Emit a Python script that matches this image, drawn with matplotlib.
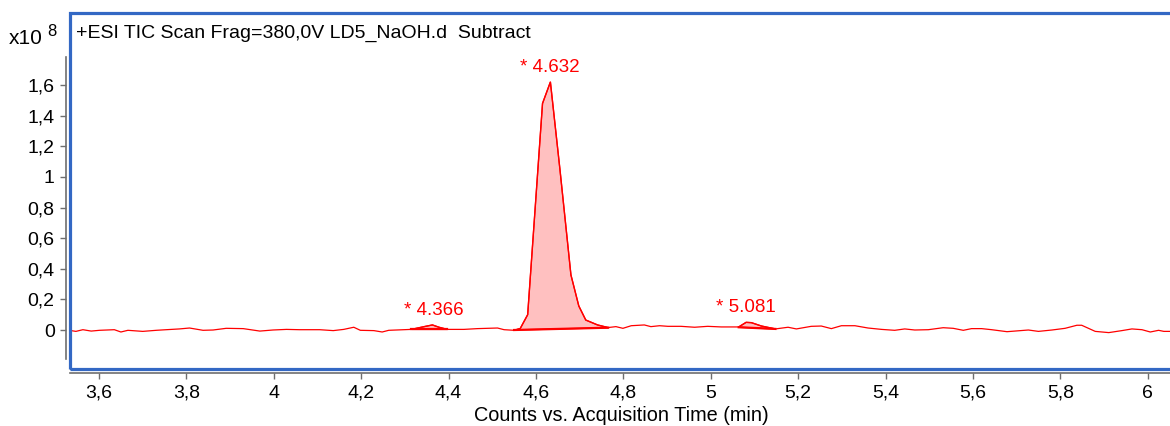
import matplotlib.pyplot as plt
from matplotlib.patches import Rectangle

plt.rcParams['font.family'] = ['Liberation Sans', 'DejaVu Sans']

# TIC trace, counts in units of 1e8
time = [3.536, 3.547, 3.563, 3.582, 3.601, 3.635, 3.650, 3.666, 3.700, 3.731,
        3.754, 3.784, 3.807, 3.838, 3.861, 3.891, 3.930, 3.968, 3.998, 4.029,
        4.059, 4.105, 4.136, 4.160, 4.183, 4.198, 4.229, 4.248, 4.263, 4.315,
        4.344, 4.363, 4.378, 4.397, 4.435, 4.466, 4.512, 4.527, 4.550, 4.564,
        4.581, 4.615, 4.633, 4.655, 4.680, 4.698, 4.714, 4.741, 4.765, 4.783,
        4.799, 4.818, 4.848, 4.863, 4.883, 4.902, 4.932, 4.963, 4.993, 5.024,
        5.064, 5.081, 5.093, 5.116, 5.148, 5.177, 5.196, 5.230, 5.253, 5.276,
        5.299, 5.330, 5.360, 5.391, 5.421, 5.444, 5.467, 5.498, 5.532, 5.555,
        5.578, 5.597, 5.620, 5.643, 5.678, 5.727, 5.750, 5.781, 5.811, 5.838,
        5.849, 5.880, 5.911, 5.941, 5.964, 5.987, 6.006, 6.025, 6.037, 6.056]
counts = [-0.004, -0.009, 0.002, -0.007, -0.002, 0.002, -0.013, -0.002, -0.009, -0.002,
          0.002, 0.007, 0.013, -0.002, 0.000, 0.011, 0.009, -0.007, 0.000, 0.004,
          0.002, 0.002, -0.004, 0.004, 0.018, -0.002, -0.004, -0.013, -0.002, 0.004,
          0.022, 0.033, 0.018, 0.004, 0.004, 0.009, 0.013, 0.002, -0.002, 0.010,
          0.100, 1.480, 1.620, 1.045, 0.360, 0.157, 0.065, 0.033, 0.016, 0.022,
          0.011, 0.028, 0.033, 0.022, 0.028, 0.024, 0.024, 0.018, 0.024, 0.020,
          0.020, 0.050, 0.048, 0.026, 0.007, 0.018, 0.007, 0.024, 0.026, 0.009,
          0.028, 0.028, 0.013, 0.004, -0.002, 0.007, 0.000, 0.002, 0.015, 0.011,
          -0.002, 0.009, 0.009, 0.002, -0.011, 0.000, -0.009, 0.000, 0.011, 0.031,
          0.031, -0.009, -0.017, -0.004, 0.007, 0.002, -0.013, -0.002, -0.009, -0.009]

# integrated peaks
peak_rt = [4.366, 4.632, 5.081]
peak_start = [4.315, 4.550, 5.064]
peak_end = [4.397, 4.765, 5.148]
base_start = [0.004, 0.000, 0.018]
base_end = [0.004, 0.015, 0.007]
peak_top = [0.033, 1.620, 0.050]

xticks = [3.6, 3.8, 4.0, 4.2, 4.4, 4.6, 4.8, 5.0, 5.2, 5.4, 5.6, 5.8, 6.0]
yticks = [0, 0.2, 0.4, 0.6, 0.8, 1.0, 1.2, 1.4, 1.6]


def comma(v):
    s = ('%.1f' % v).replace('.', ',')
    return s[:-2] if s.endswith(',0') else s


fig = plt.figure(figsize=(11.7, 4.26), dpi=100)
ax = fig.add_axes([70 / 1170, 57 / 426, 1102 / 1170, 356 / 426])

red = '#FF0000'
ax.plot(time, counts, color=red, lw=0.9)

for s, e, b0, b1 in zip(peak_start, peak_end, base_start, base_end):
    px = [t for t in time if s <= t <= e]
    py = [c for t, c in zip(time, counts) if s <= t <= e]
    xs = [s] + px + [e, s]
    ys = [b0] + py + [b1, b0]
    ax.fill(xs, ys, facecolor='#FFC0C0', edgecolor=red, lw=1.0, zorder=1)
    ax.plot([s, e], [b0, b1], color=red, lw=1.6)

for rt, top in zip(peak_rt, peak_top):
    ax.annotate('* %.3f' % rt, (rt, top), xytext=(0, 4.5), textcoords='offset points',
                ha='center', va='bottom', color=red, fontsize=13.5)

ax.set_xlim(3.5335, 6.0557)
ax.set_ylim(-0.2547, 2.0705)

gray = '#6E6E6E'
for side in ['top', 'right']:
    ax.spines[side].set_visible(False)
ax.spines['left'].set_position(('outward', 3))
ax.spines['left'].set_bounds(-0.189, 1.783)
ax.spines['bottom'].set_position(('outward', 3))
for side in ['left', 'bottom']:
    ax.spines[side].set_color(gray)
    ax.spines[side].set_linewidth(1.2)

ax.set_xticks(xticks)
ax.set_xticklabels([comma(v) for v in xticks])
ax.set_yticks(yticks)
ax.set_yticklabels([comma(v) for v in yticks])
ax.tick_params(direction='out', length=4, width=1, color=gray, labelsize=14)
ax.tick_params(axis='x', pad=4.5)
ax.tick_params(axis='y', pad=4)
ax.set_xlabel('Counts vs. Acquisition Time (min)', fontsize=14.3, labelpad=3)

# blue chromatogram frame
ax.add_patch(Rectangle((0, 0), 1, 1, transform=ax.transAxes, fill=False,
                       edgecolor='#3368C4', lw=2.3, clip_on=False, zorder=5))

ax.text(6 / 1102, 0.943, '+ESI TIC Scan Frag=380,0V LD5_NaOH.d  Subtract',
        transform=ax.transAxes, ha='left', va='center', fontsize=14)

fig.text(9 / 1170, 1 - 38 / 426, 'x10', ha='left', va='center', fontsize=15)
fig.text(47 / 1170, 1 - 32 / 426, '8', ha='left', va='center', fontsize=12)

fig.savefig('out.png', dpi=100)
